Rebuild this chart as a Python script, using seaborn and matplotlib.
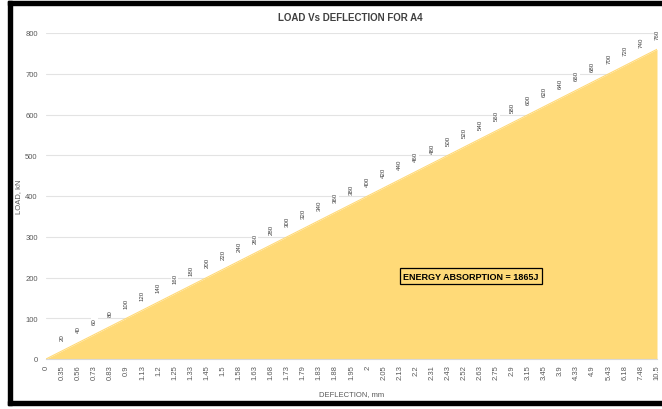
import matplotlib
matplotlib.use("Agg")
import matplotlib.pyplot as plt
import seaborn as sns
import pandas as pd
import numpy as np
from matplotlib.patches import Rectangle

deflection = ["0", "0.35", "0.56", "0.73", "0.83", "0.9", "1.13", "1.2", "1.25", "1.33",
              "1.45", "1.5", "1.58", "1.63", "1.68", "1.73", "1.79", "1.83", "1.88", "1.95",
              "2", "2.05", "2.13", "2.2", "2.31", "2.43", "2.52", "2.63", "2.75", "2.9",
              "3.15", "3.45", "3.9", "4.33", "4.9", "5.43", "6.18", "7.48", "10.5"]
load = [0, 20, 40, 60, 80, 100, 120, 140, 160, 180,
        200, 220, 240, 260, 280, 300, 320, 340, 360, 380,
        400, 420, 440, 460, 480, 500, 520, 540, 560, 580,
        600, 620, 640, 660, 680, 700, 720, 740, 760]

df = pd.DataFrame({"pos": np.arange(len(deflection)), "deflection": deflection, "load": load})

sns.set_theme(style="white")
plt.rcParams['font.family'] = ['Liberation Sans', 'DejaVu Sans']

fig = plt.figure(figsize=(6.62, 4.10), dpi=100)
ax = fig.add_axes([46/662, 50/410, 611/662, 326/410])

fill_col = "#FFDA78"
sns.lineplot(data=df, x="pos", y="load", ax=ax, color=fill_col, linewidth=0.8)
ax.fill_between(df["pos"], 0, df["load"], color=fill_col, linewidth=0, zorder=2)

ax.set_xlim(0, len(deflection) - 1)
ax.set_ylim(0, 800)
ax.set_yticks(range(0, 801, 100))
ax.set_xticks(df["pos"])
ax.set_xticklabels(deflection, rotation=90, fontsize=5.5, color="#595959")
ax.tick_params(axis="y", labelsize=5.5, labelcolor="#595959", length=0, pad=6)
ax.tick_params(axis="x", length=0, pad=4)
ax.grid(axis="y", color="#E3E3E3", linewidth=0.8, zorder=0)
ax.set_axisbelow(True)
for s in ["top", "right", "left"]:
    ax.spines[s].set_visible(False)
ax.spines["bottom"].set_color("#D9D9D9")
ax.spines["bottom"].set_linewidth(0.8)

for p, v in zip(df["pos"], df["load"]):
    if v == 0:
        continue
    ax.annotate(str(v), (p, v), xytext=(0, 7.5), textcoords="offset points",
                rotation=90, ha="center", va="bottom", fontsize=4.4, color="#404040",
                bbox=dict(boxstyle="square,pad=0.15", fc="white", ec="none"), zorder=5,
                annotation_clip=False)

ax.set_xlabel("DEFLECTION, mm", fontsize=5.5, color="#595959", labelpad=8)
ax.set_ylabel("LOAD, kN", fontsize=5.5, color="#595959", labelpad=2)
fig.text(350/662, 1 - 18/410, "LOAD Vs DEFLECTION FOR A4", ha="center", va="center",
         fontsize=7, fontweight="bold", color="#404040")

ax.text(471/662, 1 - 277/410, "ENERGY ABSORPTION = 1865J", transform=fig.transFigure,
        ha="center", va="center", fontsize=6.5, fontweight="bold", color="black",
        bbox=dict(boxstyle="square,pad=0.35", fc="none", ec="black", lw=0.9), zorder=6)

# black frame
fig.patches.append(Rectangle((8/662, 1 - 6/410), 1, 4/410, transform=fig.transFigure, color="black", zorder=10))
fig.patches.append(Rectangle((8/662, 1 - 406/410), 1, 4/410, transform=fig.transFigure, color="black", zorder=10))
fig.patches.append(Rectangle((8/662, 1 - 406/410), 4/662, 404/410, transform=fig.transFigure, color="black", zorder=10))

fig.savefig("out.png", dpi=100, facecolor="white")
